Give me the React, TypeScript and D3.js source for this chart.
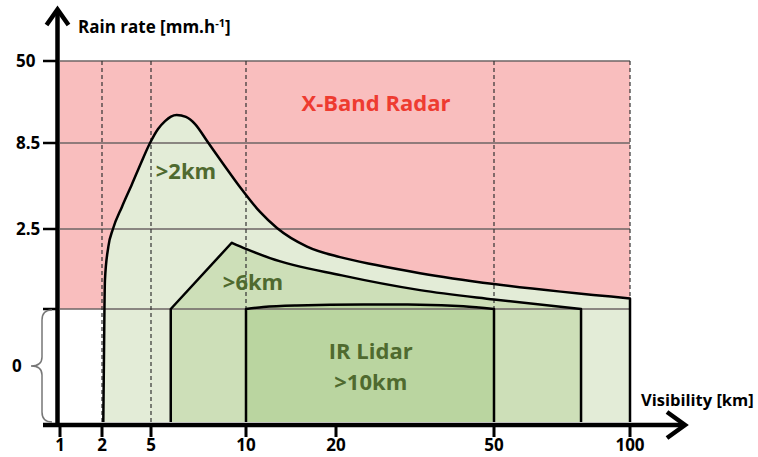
import React from 'react'
import * as d3 from 'd3'

// bottom of the "0" band under the radar zone
const FLOOR = -1

const visibilityTicks = [1, 2, 5, 10, 20, 50, 100]
const rainTicks = [50, 8.5, 2.5]
const rainSteps = [FLOOR, 0, 2.5, 8.5, 50]

// >2km envelope
const vis2km = [2.08, 2.15, 2.18, 2.39, 2.67, 3.22, 3.84, 4.39, 4.94, 5.37, 5.74, 6.05, 6.35, 6.84, 7.32, 7.95, 8.84, 9.68, 11.56, 13.44, 16.78, 20.76, 27.4, 35.95, 50, 100, 100]
const rain2km = [FLOOR, 0, 0.9, 1.95, 2.5, 4.04, 5.64, 7.11, 8.5, 15.6, 19.6, 21.9, 22.7, 21.7, 18.1, 9.51, 6.97, 5.43, 3.69, 2.57, 1.95, 1.62, 1.38, 1.12, 0.78, 0.33, FLOOR]

// >6km envelope
const vis6km = [6.04, 6.04, 9.25, 10, 12.67, 21.1, 35.95, 50, 82, 82]
const rain6km = [FLOOR, 0, 2.07, 1.88, 1.59, 1.05, 0.59, 0.3, 0, FLOOR]

// IR lidar >10km
const visLidar = [10, 10, 11.92, 15.63, 25.18, 35.95, 44.2, 50, 50]
const rainLidar = [FLOOR, 0, 0.06, 0.11, 0.14, 0.135, 0.085, 0, FLOOR]

// dashed guides
const guideVis = [2, 5, 10, 50, 100]
const guideEnd = [FLOOR, FLOOR, 0, 0, 0.33]

const labels = [
    { text: 'X-Band Radar', vis: 27.6, rain: 24.7, color: '#ee3b30' },
    { text: '>2km', vis: 6.84, rain: 5.99, color: '#4f6a2f' },
    { text: '>6km', vis: 10.78, rain: 0.59, color: '#4f6a2f' },
    { text: 'IR Lidar', vis: 26.6, rain: -0.442, color: '#4f6a2f' },
    { text: '>10km', vis: 26.6, rain: -0.721, color: '#4f6a2f' },
]

const W = 758
const H = 457
const font = "'Open Sans', sans-serif"

const x = d3.scaleLinear().domain(visibilityTicks).range([60, 102, 151, 246, 336, 494, 630])
const y = d3.scaleLinear().domain(rainSteps).range([422, 309, 229, 143, 61])

function shapePath(vis: number[], rain: number[], curveFrom: number) {
    const pts = vis.map((v, i) => [x(v), y(rain[i])] as [number, number])
    const head = pts.slice(0, curveFrom + 1)
    const body = d3.line().curve(d3.curveMonotoneX)(pts.slice(curveFrom, -1)) as string
    const last = pts[pts.length - 1]
    return 'M' + head.join('L') + 'L' + body.slice(1) + 'L' + last.join(',')
}

const shapes = [
    { d: shapePath(vis2km, rain2km, 1), fill: '#e3ecd7' },
    { d: shapePath(vis6km, rain6km, 2), fill: '#cddfb8' },
    { d: shapePath(visLidar, rainLidar, 1), fill: '#bad5a0' },
]

export default function App() {
    const x0 = x(1)
    const x1 = x(100)
    const top = y(0) + 1
    const bot = y(FLOOR)
    const mid = (top + bot) / 2
    const brace = `M52,${top} Q42,${top} 42,${top + 10} L42,${mid - 9} Q42,${mid} 31,${mid} Q42,${mid} 42,${mid + 9} L42,${bot - 10} Q42,${bot} 52,${bot}`

    return (
        <svg width={W} height={H} style={{ position: 'absolute', left: 0, top: 0, background: '#fff' }}>
            <rect x={x0} y={y(50)} width={x1 - x0} height={y(0) - y(50)} fill="#f9bebe" />

            {shapes.map((s, i) => <path key={i} d={s.d + 'Z'} fill={s.fill} />)}

            {[50, 8.5, 2.5, 0].map(r =>
                <line key={r} x1={x0} x2={x1} y1={y(r)} y2={y(r)} stroke="#6d6565" strokeWidth={1.5} />
            )}

            {guideVis.map((v, i) =>
                <line key={v} x1={x(v)} x2={x(v)} y1={y(50)} y2={y(guideEnd[i])}
                    stroke="#333" strokeWidth={1.2} strokeDasharray="4,3" />
            )}

            {shapes.map((s, i) => <path key={i} d={s.d} fill="none" stroke="#000" strokeWidth={2.5} strokeLinejoin="round" />)}

            {labels.map(l =>
                <text key={l.text} x={x(l.vis)} y={y(l.rain)} textAnchor="middle" fill={l.color}
                    fontFamily={font} fontWeight={700} fontSize={22}>{l.text}</text>
            )}

            {/* axes */}
            <line x1={57.5} x2={57.5} y1={427} y2={10} stroke="#000" strokeWidth={4.5} />
            <polyline points="46.5,25 57.5,9.5 68.5,25" fill="none" stroke="#000" strokeWidth={4.5} />
            <line x1={43} x2={684} y1={425} y2={425} stroke="#000" strokeWidth={4.5} />
            <polyline points="667,412 685,425 667,438" fill="none" stroke="#000" strokeWidth={4.5} />

            {visibilityTicks.map(v =>
                <g key={v}>
                    <line x1={x(v)} x2={x(v)} y1={426} y2={437} stroke="#000" strokeWidth={3} />
                    <text x={x(v)} y={451} textAnchor="middle" fontFamily={font} fontWeight={700} fontSize={17}>{v}</text>
                </g>
            )}
            {[...rainTicks, 0].map(r =>
                <line key={r} x1={43} x2={57} y1={y(r)} y2={y(r)} stroke="#000" strokeWidth={2.5} />
            )}
            {rainTicks.map(r =>
                <text key={r} x={16} y={y(r)} dy="0.36em" fontFamily={font} fontWeight={700} fontSize={17}>{r}</text>
            )}
            <text x={12} y={mid} dy="0.36em" fontFamily={font} fontWeight={700} fontSize={17}>0</text>
            <path d={brace} fill="none" stroke="#777" strokeWidth={1.5} />

            <text x={78} y={33} fontFamily={font} fontWeight={700} fontSize={17}>
                Rain rate [mm.h<tspan dy={-6} fontSize={11}>-1</tspan><tspan dy={6}>]</tspan>
            </text>
            <text x={641} y={406} fontFamily={font} fontWeight={700} fontSize={16.5}>Visibility [km]</text>
        </svg>
    )
}
